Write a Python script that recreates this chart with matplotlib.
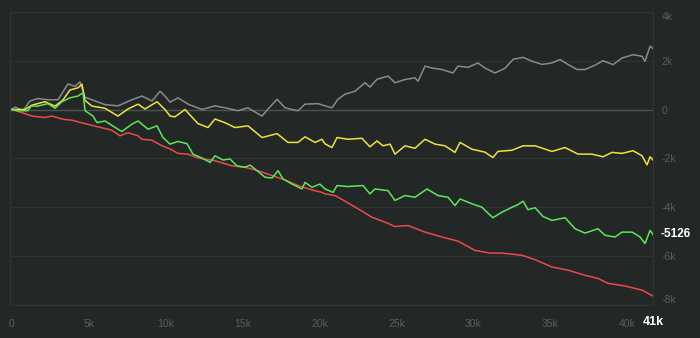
import matplotlib
matplotlib.use("Agg")
import matplotlib.pyplot as plt
import matplotlib.transforms as mtransforms

plt.rcParams['font.family'] = ['Liberation Sans', 'DejaVu Sans']

# values (x in trades, y in points)
gray_x = [0, 195, 715, 1170, 1690, 2340, 2990, 3640, 4100, 4420,
          4750, 5200, 6050, 6890, 7800, 8450, 9110, 9630, 9950, 10280,
          10800, 11450, 12360, 13200, 13850, 14700, 15350, 16260, 16650, 17240,
          17760, 18600, 19060, 19900, 20360, 20810, 21200, 21660, 22310, 22960,
          23280, 23740, 24460, 24910, 25560, 26210, 26410, 26860, 27320, 27970,
          28680, 29010, 29660, 30310, 30760, 31410, 32060, 32590, 33240, 33820,
          34470, 35120, 35640, 36160, 36750, 37270, 37920, 38440, 39090, 39670,
          40390, 40980, 41170, 41500, 41690]
gray_y = [0, 100, -50, 350, 450, 400, 400, 1050, 950, 1130,
          500, 400, 200, 150, 400, 550, 350, 750, 550, 300,
          480, 220, 0, 150, 70, -50, 70, -270, 20, 420,
          70, -50, 220, 240, 150, 70, 420, 630, 750, 1100,
          920, 1240, 1370, 1100, 1230, 1300, 1160, 1780, 1700, 1640,
          1500, 1780, 1730, 1910, 1700, 1500, 1690, 2060, 2140, 1980,
          1850, 1910, 2050, 1850, 1640, 1640, 1820, 2000, 1840, 2110,
          2250, 2180, 1980, 2600, 2500]

yellow_x = [0, 845, 1300, 2145, 2795, 3315, 3770, 4290, 4550, 4750,
            5200, 6050, 6890, 7540, 8200, 8650, 9430, 9950, 10280, 10600,
            11250, 12100, 12750, 13200, 13850, 14500, 15350, 16260, 17240, 17950,
            18600, 19060, 19710, 20160, 20360, 20810, 21140, 21850, 22760, 23280,
            23740, 24130, 24590, 24910, 25560, 26210, 26860, 27510, 28160, 28810,
            29140, 29920, 30760, 31280, 31610, 32520, 33240, 34020, 35120, 35970,
            36810, 37720, 38440, 39020, 39670, 40390, 40980, 41300, 41500, 41690]
yellow_y = [0, 0, 180, 320, 140, 390, 800, 890, 1040, 370,
            140, 50, -270, 20, 220, 20, 320, 0, -270, -300,
            0, -580, -740, -390, -540, -740, -670, -1150, -990, -1350,
            -1350, -1120, -1350, -1220, -1410, -1560, -1150, -1220, -1180, -1530,
            -1290, -1490, -1420, -1830, -1490, -1590, -1220, -1420, -1490, -1760,
            -1350, -1630, -1750, -1970, -1720, -1670, -1490, -1490, -1720, -1560,
            -1830, -1830, -1940, -1760, -1800, -1690, -1900, -2270, -1940, -2070]

green_x = [0, 390, 1040, 1235, 1690, 2340, 2795, 3250, 3770, 4290,
           4620, 4750, 5270, 5530, 6050, 6890, 7150, 7800, 8200, 8850,
           9430, 9820, 10280, 10800, 11380, 11770, 12360, 12880, 13200, 13720,
           14180, 14630, 15150, 15480, 16000, 16460, 16910, 17300, 17630, 18210,
           18860, 19060, 19510, 20030, 20360, 20880, 21140, 21850, 22830, 23280,
           23610, 24460, 24910, 25560, 26210, 26990, 27710, 28360, 28810, 29140,
           29920, 30570, 30890, 31280, 31870, 32520, 32910, 33240, 33560, 34020,
           34540, 35120, 35970, 36620, 37270, 38110, 38570, 39220, 39670, 40330,
           40850, 41170, 41500, 41690]
green_y = [0, -50, -50, 140, 140, 240, 50, 320, 480, 550,
           690, -50, -270, -540, -470, -810, -900, -600, -470, -810,
           -670, -1150, -1420, -1310, -1400, -1830, -1990, -2170, -1900, -2070,
           -2030, -2310, -2370, -2280, -2540, -2780, -2810, -2510, -2850, -3060,
           -3260, -2990, -3190, -3060, -3260, -3400, -3120, -3160, -3120, -3460,
           -3260, -3330, -3730, -3530, -3600, -3260, -3530, -3600, -3940, -3670,
           -3870, -4010, -4210, -4440, -4210, -4010, -3900, -3760, -4110, -4030,
           -4390, -4550, -4440, -4890, -5070, -4890, -5160, -5230, -5030, -5030,
           -5230, -5500, -4960, -5126]

red_x = [0, 845, 1300, 2145, 2600, 3315, 3900, 4750, 5590, 6500,
         7020, 7540, 8200, 8450, 9110, 9760, 10280, 10800, 11450, 12100,
         13200, 14310, 15150, 16000, 16910, 17760, 18600, 19510, 20160, 20360,
         21010, 21660, 22500, 23410, 24260, 24910, 25760, 26860, 27970, 29010,
         30110, 31090, 31870, 33170, 34020, 35120, 36160, 37270, 38110, 38760,
         39870, 40980, 41690]
red_y = [0, -170, -270, -330, -270, -400, -440, -580, -710, -850,
         -1080, -950, -1080, -1220, -1260, -1490, -1620, -1800, -1830, -1990,
         -2100, -2310, -2370, -2510, -2710, -2890, -3120, -3300, -3400, -3460,
         -3530, -3760, -4070, -4420, -4620, -4800, -4760, -5030, -5230, -5400,
         -5780, -5890, -5890, -5980, -6160, -6460, -6590, -6800, -6930, -7130,
         -7240, -7410, -7650]

y_ticks = [4000, 2000, 0, -2000, -4000, -6000, -8000]
y_labels = ['4k', '2k', '0', '-2k', '-4k', '-6k', '-8k']
x_ticks = [0, 5000, 10000, 15000, 20000, 25000, 30000, 35000, 40000]
x_labels = ['0', '5k', '10k', '15k', '20k', '25k', '30k', '35k', '40k']
last_x_label = '41k'
last_value = -5126

bg = '#232826'
fig = plt.figure(figsize=(7, 3.38), dpi=100, facecolor=bg)
ax = fig.add_axes([10 / 700, 33 / 338, 643 / 700, 293 / 338])
ax.set_facecolor(bg)

for t in y_ticks:
    if t == 0:
        ax.axhline(t, color='#4d5350', lw=1.0, zorder=1)
    else:
        ax.axhline(t, color='#2e3431', lw=0.9, zorder=1)

ax.plot(gray_x, gray_y, color='#8a8a8a', lw=1.1, zorder=3)
ax.plot(yellow_x, yellow_y, color='#f0e23c', lw=1.1, zorder=4)
ax.plot(green_x, green_y, color='#5ee65a', lw=1.1, zorder=5)
ax.plot(red_x, red_y, color='#ec4a4a', lw=1.1, zorder=2)

ax.set_xlim(-130, 41690)
ax.set_ylim(-8020, 3940)

for s in ax.spines.values():
    s.set_color('#2f3532')
    s.set_linewidth(0.9)

ax.yaxis.tick_right()
ax.set_yticks(y_ticks)
ax.set_yticklabels(y_labels)
ax.set_xticks(x_ticks)
ax.set_xticklabels(x_labels)
ax.tick_params(axis='both', length=0, colors='#5a5f5c', labelsize=7.5)
ax.tick_params(axis='y', pad=6)
ax.tick_params(axis='x', pad=10)
ax.get_yticklabels()[0].set_va('top')
ax.get_yticklabels()[-1].set_va('bottom')

# current x and last value markers
tr_x = mtransforms.blended_transform_factory(ax.transData, ax.transAxes)
ax.text(green_x[-1], -0.057, last_x_label, transform=tr_x, ha='center', va='center',
        color='white', fontsize=9, fontweight='bold')
tr_y = mtransforms.blended_transform_factory(ax.transAxes, ax.transData)
ax.text(1.012, last_value, str(last_value), transform=tr_y, ha='left', va='center',
        color='white', fontsize=8.5, fontweight='bold')

fig.savefig('out.png', dpi=100, facecolor=bg)
